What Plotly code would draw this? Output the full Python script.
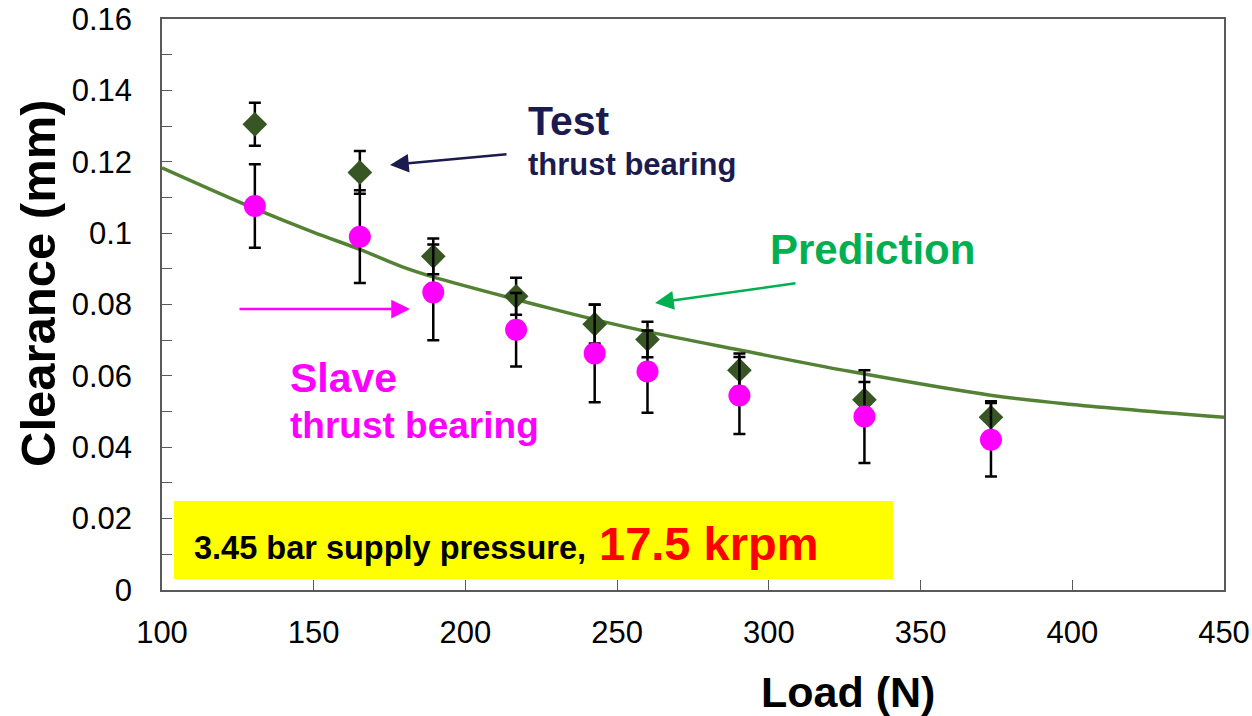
import plotly.graph_objects as go

# Measured clearances of the two thrust bearings vs. static load
load_n = [130.6, 165.2, 189.4, 216.7, 242.6, 260.0, 290.3, 331.5, 373.2]
test_clearance = [0.1305, 0.1170, 0.0935, 0.0823, 0.0745, 0.0702, 0.0616, 0.0533, 0.0484]
test_err = [0.0060, 0.0060, 0.0050, 0.0052, 0.0054, 0.0050, 0.0047, 0.0050, 0.0045]
slave_clearance = [0.1076, 0.0990, 0.0834, 0.0729, 0.0663, 0.0612, 0.0545, 0.0486, 0.0421]
slave_err = [0.0117, 0.0130, 0.0134, 0.0103, 0.0137, 0.0115, 0.0108, 0.0130, 0.0103]

# Predicted clearance curve
pred_load = [100, 131, 150, 165, 179, 189, 228, 243, 260, 290, 327, 373, 400, 450]
pred_clearance = [0.1183, 0.1067, 0.1002, 0.0955, 0.0906, 0.0878, 0.0789, 0.0757,
                  0.0724, 0.0673, 0.0612, 0.0546, 0.0520, 0.0484]

x_ticks = [100, 150, 200, 250, 300, 350, 400, 450]
y_ticks = [0, 0.02, 0.04, 0.06, 0.08, 0.10, 0.12, 0.14, 0.16]
y_ticktext = ["0", "0.02", "0.04", "0.06", "0.08", "0.1", "0.12", "0.14", "0.16"]

W, H = 1252, 716
ML, MR, MT, MB = 162, 28, 19, 126
PW, PH = W - ML - MR, H - MT - MB


def fx(px):
    """pixel column -> paper x"""
    return (px - ML) / PW


def fy(py):
    """pixel row -> paper y"""
    return (H - MB - py) / PH


FONT = "Arial, Liberation Sans, sans-serif"
NAVY = "#1b1b50"
GREEN = "#00b050"
MAGENTA = "#ff00ff"

fig = go.Figure()

fig.add_trace(go.Scatter(
    x=pred_load, y=pred_clearance, mode="lines", line_shape="spline",
    line=dict(color="#548235", width=3.5), name="Prediction", hoverinfo="skip"))

fig.add_trace(go.Scatter(
    x=load_n, y=test_clearance, mode="markers", name="Test",
    marker=dict(symbol="diamond", size=19, color="#375623"),
    error_y=dict(type="data", array=test_err, color="black", thickness=2.5, width=6)))

fig.add_trace(go.Scatter(
    x=load_n, y=slave_clearance, mode="markers", name="Slave",
    marker=dict(symbol="circle", size=22, color=MAGENTA),
    error_y=dict(type="data", array=slave_err, color="black", thickness=2.5, width=6)))

# Operating-condition banner
fig.add_shape(type="rect", xref="paper", yref="paper",
              x0=fx(174), x1=fx(893), y0=fy(579), y1=fy(501),
              fillcolor="#ffff00", line=dict(width=0), layer="below")

annotations = [
    dict(x=fx(192), y=fy(548), text="<b>3.45 bar supply pressure,</b>",
         font=dict(size=32.5, color="black", family=FONT), xanchor="left"),
    dict(x=fx(597), y=fy(543), text="<b>17.5 krpm</b>",
         font=dict(size=47, color="#ff0000", family=FONT), xanchor="left"),
    dict(x=fx(526), y=fy(121), text="<b>Test</b>",
         font=dict(size=41, color=NAVY, family=FONT), xanchor="left"),
    dict(x=fx(526), y=fy(164), text="<b>thrust bearing</b>",
         font=dict(size=31, color=NAVY, family=FONT), xanchor="left"),
    dict(x=fx(768), y=fy(249), text="<b>Prediction</b>",
         font=dict(size=42, color=GREEN, family=FONT), xanchor="left"),
    dict(x=fx(288), y=fy(378), text="<b>Slave</b>",
         font=dict(size=41, color=MAGENTA, family=FONT), xanchor="left"),
    dict(x=fx(288), y=fy(425), text="<b>thrust bearing</b>",
         font=dict(size=37, color=MAGENTA, family=FONT), xanchor="left"),
    dict(x=fx(38), y=fy(283), text="<b>Clearance (mm)</b>", textangle=-90,
         font=dict(size=49, color="black", family=FONT), xanchor="center"),
    dict(x=fx(848), y=fy(692), text="<b>Load (N)</b>",
         font=dict(size=43, color="black", family=FONT), xanchor="center"),
]
for a in annotations:
    a.update(xref="paper", yref="paper", showarrow=False, yanchor="middle")

# Pointer arrows
arrows = [
    (390, 165, 508, 154, NAVY),
    (655, 303, 797, 283, GREEN),
    (410, 309, 238, 309, MAGENTA),
]
for tx, ty, sx, sy, col in arrows:
    annotations.append(dict(
        xref="paper", yref="paper", axref="pixel", ayref="pixel",
        x=fx(tx), y=fy(ty), ax=sx - tx, ay=sy - ty, text="",
        showarrow=True, arrowhead=2, arrowsize=1.5, arrowwidth=2.5, arrowcolor=col))

fig.update_layout(annotations=annotations)

axis_common = dict(
    showgrid=False, zeroline=False, showline=True, mirror=True, automargin=False,
    linecolor="#595959", linewidth=1.5, ticks="inside", ticklen=10,
    tickcolor="#595959", tickwidth=1.2,
    tickfont=dict(size=31, color="black", family=FONT),
)

fig.update_xaxes(range=[100, 450], tickvals=x_ticks, ticklabelstandoff=14, **axis_common)
fig.update_yaxes(range=[0, 0.16], tickvals=y_ticks, ticktext=y_ticktext,
                 ticklabelstandoff=22,
                 minor=dict(dtick=0.01, ticks="inside", ticklen=10,
                            tickcolor="#595959", tickwidth=1.2),
                 **axis_common)

fig.update_layout(
    width=W, height=H, showlegend=False,
    margin=dict(l=ML, r=MR, t=MT, b=MB, autoexpand=False),
    paper_bgcolor="white", plot_bgcolor="white",
    font=dict(family=FONT),
)

fig.write_html("out.html")
